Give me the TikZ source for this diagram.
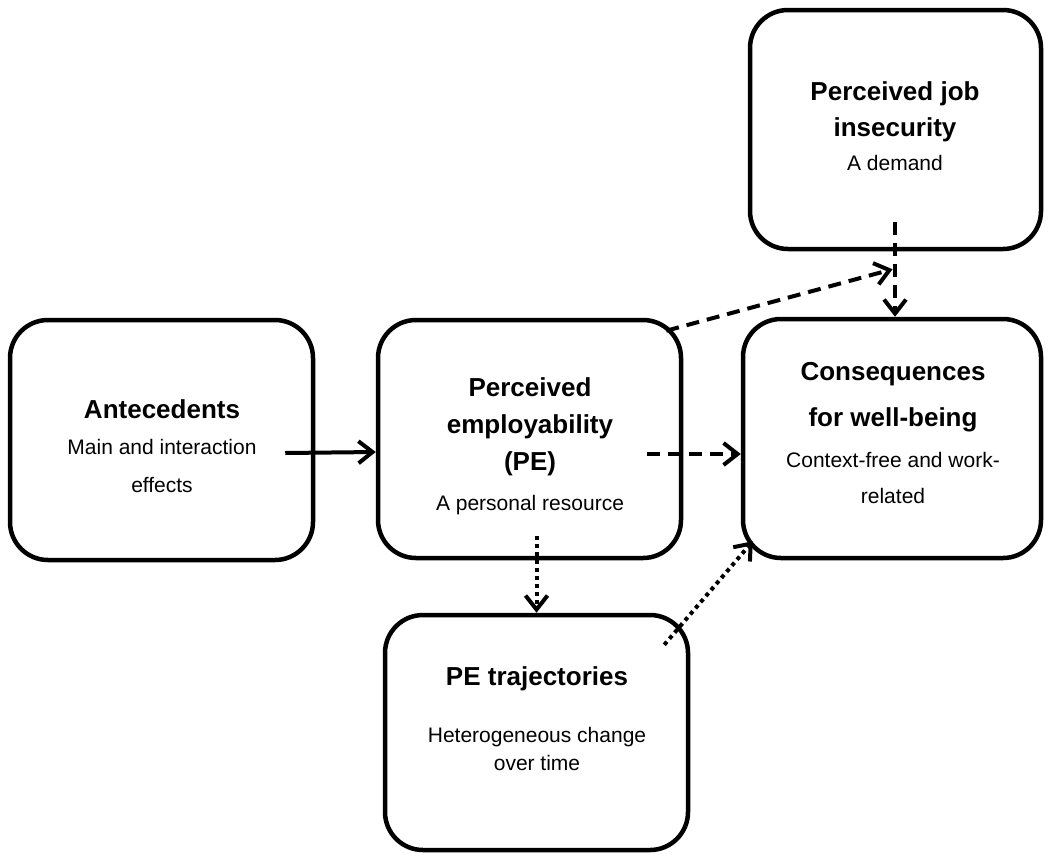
\documentclass[tikz,border=0pt]{standalone}
\usepackage{fontspec}
\setmainfont{Liberation Sans}
\usetikzlibrary{arrows.meta}
\tikzset{
  box/.style={draw, line width=4.5pt, rounded corners=38pt, inner sep=0pt},
  ttl/.style={anchor=base, inner sep=0pt, font=\fontsize{26}{36}\selectfont\bfseries},
  bdy/.style={anchor=base, inner sep=0pt, font=\fontsize{21}{38}\selectfont},
  arr/.style={line width=4pt, -{Straight Barb[length=14pt,width=22pt]}},
  dasharr/.style={arr, dash pattern=on 13pt off 8pt},
  dotarr/.style={arr, dash pattern=on 4pt off 4pt},
}
\begin{document}
\begin{tikzpicture}[x=1pt,y=-1pt]
\useasboundingbox (0,0) rectangle (1048,854);
% boxes
\node[box, minimum width=303pt, minimum height=240pt] (A) at (161.5,440) {};
\node[box, minimum width=303pt, minimum height=238pt] (P) at (529.5,439) {};
\node[box, minimum width=298pt, minimum height=239pt] (C) at (892,438.5) {};
\node[box, minimum width=291pt, minimum height=239pt] (J) at (895.5,129.5) {};
\node[box, minimum width=303pt, minimum height=235pt] (T) at (536.5,732.5) {};
% texts
\node[ttl] (a1) at (162,418) {Antecedents};
\node[bdy] (a2) at (162,454) {Main and interaction};
\node[bdy] (a3) at (162,492) {effects};
\node[ttl] (p1) at (530,396) {Perceived};
\node[ttl] (p2) at (530,433) {employability};
\node[ttl] (p3) at (530,470) {(PE)};
\node[bdy] (p4) at (530,510) {A personal resource};
\node[ttl] (c1) at (893,380) {Consequences};
\node[ttl] (c2) at (893,426) {for well-being};
\node[bdy] (c3) at (893,467) {Context-free and work-};
\node[bdy] (c4) at (893,503) {related};
\node[ttl] (j1) at (895,100) {Perceived job};
\node[ttl] (j2) at (895,136) {insecurity};
\node[bdy] (j3) at (895,170) {A demand};
\node[ttl] (t1) at (537,685) {PE trajectories};
\node[bdy] (t2) at (537,742) {Heterogeneous change};
\node[bdy] (t3) at (537,770) {over time};
% connectors
\draw[arr] ([shift={(-30pt,-13pt)}]A.east) -- ([yshift=-13pt]P.west);
\draw[dasharr] ([shift={(-36pt,-15pt)}]P.east) -- ([yshift=-15.5pt]C.west);
\draw[dasharr] ([shift={(-17pt,-13pt)}]P.north east) -- ([shift={(-3pt,-18pt)}]J.south);
\draw[dasharr] ([shift={(-0.5pt,29pt)}]J.south) -- ([xshift=-0.5pt]J.south |- C.north);
\draw[dotarr] ([yshift=77pt]T.north) -- (T.north);
\draw[dotarr] ([shift={(-26pt,-32pt)}]T.north east) -- ([shift={(12pt,19pt)}]C.south west);
\end{tikzpicture}
\end{document}
